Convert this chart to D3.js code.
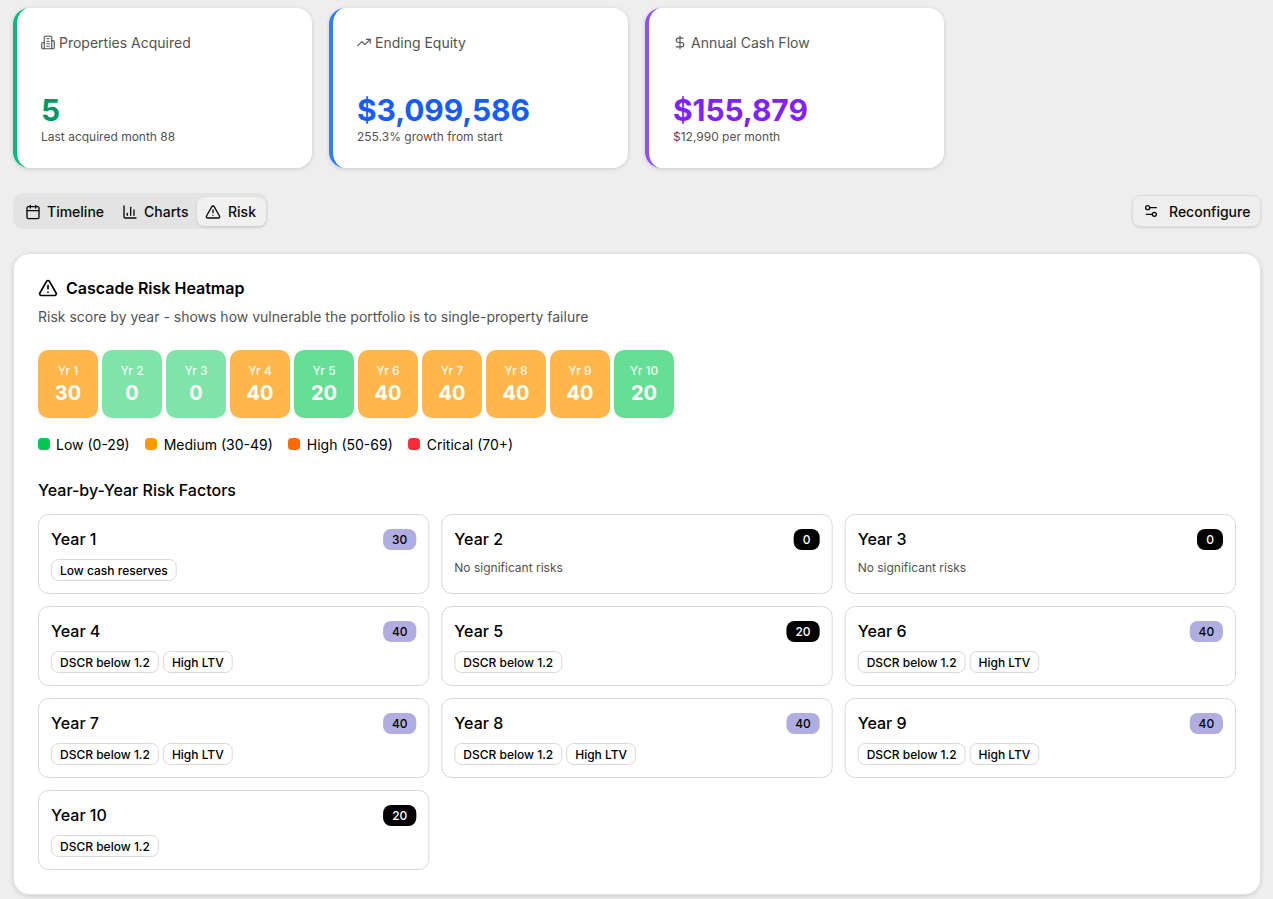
<!DOCTYPE html>
<html>
<head>
<meta charset="utf-8">
<script src="https://cdn.jsdelivr.net/npm/d3@7"></script>
<style>
  html, body { margin: 0; padding: 0; background: #eeeeee; overflow: hidden; }
  #container { position: relative; width: 1273px; height: 899px; font-family: Inter, "Noto Sans", sans-serif; }
  svg { display: block; position: absolute; left: 0; top: 0; }
  .icon { fill: none; stroke-linecap: round; stroke-linejoin: round; }
  .txt { position: absolute; white-space: nowrap; }
</style>
</head>
<body>
<div id="container"></div>
<script>
// kpi cards
let kpiTitles = ["Properties Acquired", "Ending Equity", "Annual Cash Flow"];
let kpiValues = ["5", "$3,099,586", "$155,879"];
let kpiNotes = ["Last acquired month 88", "255.3% growth from start", "$12,990 per month"];
let kpiBorders = ["#00bc7d", "#2b7fff", "#8e51ff"];
let kpiColors = ["#009966", "#155dfc", "#7f22fe"];

// tabs
let tabNames = ["Timeline", "Charts", "Risk"];

// heatmap
let years = [1, 2, 3, 4, 5, 6, 7, 8, 9, 10];
let scores = [30, 0, 0, 40, 20, 40, 40, 40, 40, 20];
let factors = [
  ["Low cash reserves"],
  [],
  [],
  ["DSCR below 1.2", "High LTV"],
  ["DSCR below 1.2"],
  ["DSCR below 1.2", "High LTV"],
  ["DSCR below 1.2", "High LTV"],
  ["DSCR below 1.2", "High LTV"],
  ["DSCR below 1.2", "High LTV"],
  ["DSCR below 1.2"]
];

// legend
let legendNames = ["Low (0-29)", "Medium (30-49)", "High (50-69)", "Critical (70+)"];
let legendColors = ["#00c950", "#ff9900", "#ff6900", "#fb2c36"];

// lucide icons
let icons = {
  building: ["M6 22V4a2 2 0 0 1 2-2h8a2 2 0 0 1 2 2v18Z", "M6 12H4a2 2 0 0 0-2 2v6a2 2 0 0 0 2 2h2", "M18 9h2a2 2 0 0 1 2 2v9a2 2 0 0 1-2 2h-2", "M10 6h4", "M10 10h4", "M10 14h4", "M10 18h4"],
  trending: ["M22 7 13.5 15.5 8.5 10.5 2 17", "M16 7h6v6"],
  dollar: ["M12 2v20", "M17 5H9.5a3.5 3.5 0 0 0 0 7h5a3.5 3.5 0 0 1 0 7H6"],
  calendar: ["M8 2v4", "M16 2v4", "M5 4h14a2 2 0 0 1 2 2v14a2 2 0 0 1-2 2H5a2 2 0 0 1-2-2V6a2 2 0 0 1 2-2Z", "M3 10h18"],
  chart: ["M3 3v16a2 2 0 0 0 2 2h16", "M18 17V9", "M13 17V5", "M8 17v-3"],
  alert: ["m21.73 18-8-14a2 2 0 0 0-3.48 0l-8 14A2 2 0 0 0 4 21h16a2 2 0 0 0 1.73-3", "M12 9v4", "M12 17h.01"],
  sliders: ["M20 7h-9", "M14 17H5", "M20 17a3 3 0 1 1-6 0 3 3 0 0 1 6 0Z", "M10 7a3 3 0 1 1-6 0 3 3 0 0 1 6 0Z"]
};
let kpiIcons = ["building", "trending", "dollar"];
let tabIcons = ["calendar", "chart", "alert"];

let container = d3.select("#container");
let svg = container.append("svg").attr("width", 1273).attr("height", 899);

let defs = svg.append("defs");
let addShadow = (id, dy, blur, op) => {
  let f = defs.append("filter").attr("id", id)
    .attr("x", "-5%").attr("y", "-10%").attr("width", "110%").attr("height", "125%");
  f.append("feDropShadow").attr("dx", 0).attr("dy", dy)
    .attr("stdDeviation", blur).attr("flood-color", "#000").attr("flood-opacity", op);
};
addShadow("soft", 1, 2, 0.16);
addShadow("tiny", 1, 1, 0.12);

function drawIcon(name, x, y, size, color, sw) {
  let g = svg.append("g").attr("class", "icon")
    .attr("transform", `translate(${x},${y}) scale(${size / 24})`)
    .attr("stroke", color).attr("stroke-width", sw);
  g.selectAll("path").data(icons[name]).join("path").attr("d", d => d);
}

// html text, y is the baseline, same hinting as normal page text
function label(s, x, y, size, weight, color, anchor) {
  let asc = Math.round(size * 0.96875), desc = Math.round(size * 0.2412);
  let t = container.append("div").attr("class", "txt")
    .style("top", (y - asc) + "px")
    .style("line-height", (asc + desc) + "px")
    .style("font-size", size + "px").style("font-weight", weight).style("color", color)
    .text(s);
  if (anchor == "middle") {
    t.style("left", (x - 50) + "px").style("width", "100px").style("text-align", "center");
  } else {
    t.style("left", x + "px");
  }
  return t;
}

// KPI cards
let kpiX = d3.scaleBand().domain(d3.range(3)).range([13, 944]).paddingInner(17 / 316);
kpiTitles.forEach((title, i) => {
  let x = kpiX(i), w = kpiX.bandwidth(), y = 8, h = 160;
  svg.append("rect").attr("x", x).attr("y", y).attr("width", w).attr("height", h)
    .attr("rx", 16).attr("fill", "#fff").attr("filter", "url(#soft)");
  svg.append("path").attr("fill", kpiBorders[i]).attr("d",
    `M${x + 16} ${y}a16 16 0 0 0-16 16V${y + h - 16}a16 16 0 0 0 16 16` +
    `a12 16 0 0 1-12-16V${y + 16}a12 16 0 0 1 12-16Z`);
  drawIcon(kpiIcons[i], x + 27.5, 35, 15, "#525252", 1.8);
  label(title, Math.round(x) + 46, 48, 14, 400, "#525252");
  label(kpiValues[i], Math.round(x) + 28, 121, 30, 700, kpiColors[i]).style("letter-spacing", "-0.1px");
  label(kpiNotes[i], Math.round(x) + 28, 141, 12, 400, "#525252");
});

// tabs
svg.append("rect").attr("x", 13).attr("y", 193).attr("width", 255).attr("height", 36)
  .attr("rx", 10).attr("fill", "#e3e3e3");
svg.append("rect").attr("x", 197).attr("y", 197).attr("width", 69).attr("height", 29)
  .attr("rx", 8).attr("fill", "#f0f0f0").attr("filter", "url(#tiny)");
let tabX = [47, 144, 228];
let tabIconX = [25, 122, 205];
tabNames.forEach((t, i) => {
  drawIcon(tabIcons[i], tabIconX[i], 204, 16, "#0a0a0a", 2);
  label(t, tabX[i], 217, 14, 500, "#0a0a0a");
});

// reconfigure button
svg.append("rect").attr("x", 1132.5).attr("y", 195.5).attr("width", 128).attr("height", 31)
  .attr("rx", 8).attr("fill", "#eeeeee").attr("stroke", "#dcdcdc").attr("filter", "url(#tiny)");
drawIcon("sliders", 1143, 203, 16, "#0a0a0a", 2);
label("Reconfigure", 1169, 217, 14, 500, "#0a0a0a");

// main panel
svg.append("rect").attr("x", 13.5).attr("y", 253.5).attr("width", 1247).attr("height", 641)
  .attr("rx", 16).attr("fill", "#fff").attr("stroke", "#e2e2e2").attr("filter", "url(#soft)");
drawIcon("alert", 38, 278, 20, "#000", 2);
label("Cascade Risk Heatmap", 66, 294, 16, 600, "#000");
label("Risk score by year - shows how vulnerable the portfolio is to single-property failure", 38, 322, 14, 400, "#525252");

// heatmap cells
let heatX = d3.scaleBand().domain(years).range([38, 674]).paddingInner(4 / 64);
let heatColor = d3.scaleThreshold().domain([30, 50, 70]).range(legendColors);
let heatOpacity = d3.scaleThreshold().domain([10, 30]).range([0.5, 0.6, 0.7]);
svg.append("g").selectAll("rect").data(years).join("rect")
  .attr("x", d => heatX(d)).attr("y", 350)
  .attr("width", heatX.bandwidth()).attr("height", 68).attr("rx", 10)
  .attr("fill", (d, i) => heatColor(scores[i]))
  .attr("fill-opacity", (d, i) => heatOpacity(scores[i]));
years.forEach((d, i) => {
  let cx = heatX(d) + heatX.bandwidth() / 2;
  label("Yr " + d, cx, 375, 12, 500, "rgba(255,255,255,0.9)", "middle");
  label(scores[i], cx, 400, 20, 700, "#fff", "middle");
});

// legend
let legendX = 38;
legendNames.forEach((n, i) => {
  svg.append("rect").attr("x", Math.floor(legendX)).attr("y", 438).attr("width", 12).attr("height", 12)
    .attr("rx", 4).attr("fill", legendColors[i]);
  let t = label(n, legendX + 18, 450, 14, 400, "#000");
  legendX += 18 + t.node().getBoundingClientRect().width + 16;
});

// year cards
label("Year-by-Year Risk Factors", 38, 496, 16, 500, "#000");
let colX = d3.scaleBand().domain([0, 1, 2]).range([38, 1236]).paddingInner(12 / 403.33);
let rowY = d3.scaleBand().domain([0, 1, 2, 3]).range([514, 870]).paddingInner(12 / 92);
years.forEach((yr, i) => {
  let x = colX(i % 3), y = rowY(Math.floor(i / 3)), w = colX.bandwidth(), h = rowY.bandwidth();
  svg.append("rect").attr("x", x + 0.5).attr("y", y + 0.5).attr("width", w - 1).attr("height", h - 1)
    .attr("rx", 10).attr("fill", "#fff").attr("stroke", "#d9d9d9");
  label("Year " + yr, x + 13, y + 31, 16, 500, "#000");

  // badge
  let s = scores[i];
  let bw = s > 0 ? 33.25 : 26;
  let bx = x + w - 13 - bw;
  svg.append("rect").attr("x", bx).attr("y", y + 15).attr("width", bw).attr("height", 21)
    .attr("rx", 8).attr("fill", s >= 30 ? "#b0aee0" : "#000");
  label(s, bx + bw / 2, y + 30, 12, 500, s >= 30 ? "#000" : "#fff", "middle");

  // tags
  if (factors[i].length == 0) {
    label("No significant risks", x + 13, y + 58, 12, 400, "#525252");
  }
  let tx = x + 13;
  factors[i].forEach(f => {
    let t = label(f, tx + 9, y + 61, 12, 500, "#000");
    let tw = t.node().getBoundingClientRect().width + 18;
    svg.append("rect").attr("x", tx + 0.5).attr("y", y + 45.5).attr("width", tw - 1).attr("height", 21)
      .attr("rx", 7).attr("fill", "#fff").attr("stroke", "#d9d9d9");
    tx += tw + 4;
  });
});
</script>
</body>
</html>
